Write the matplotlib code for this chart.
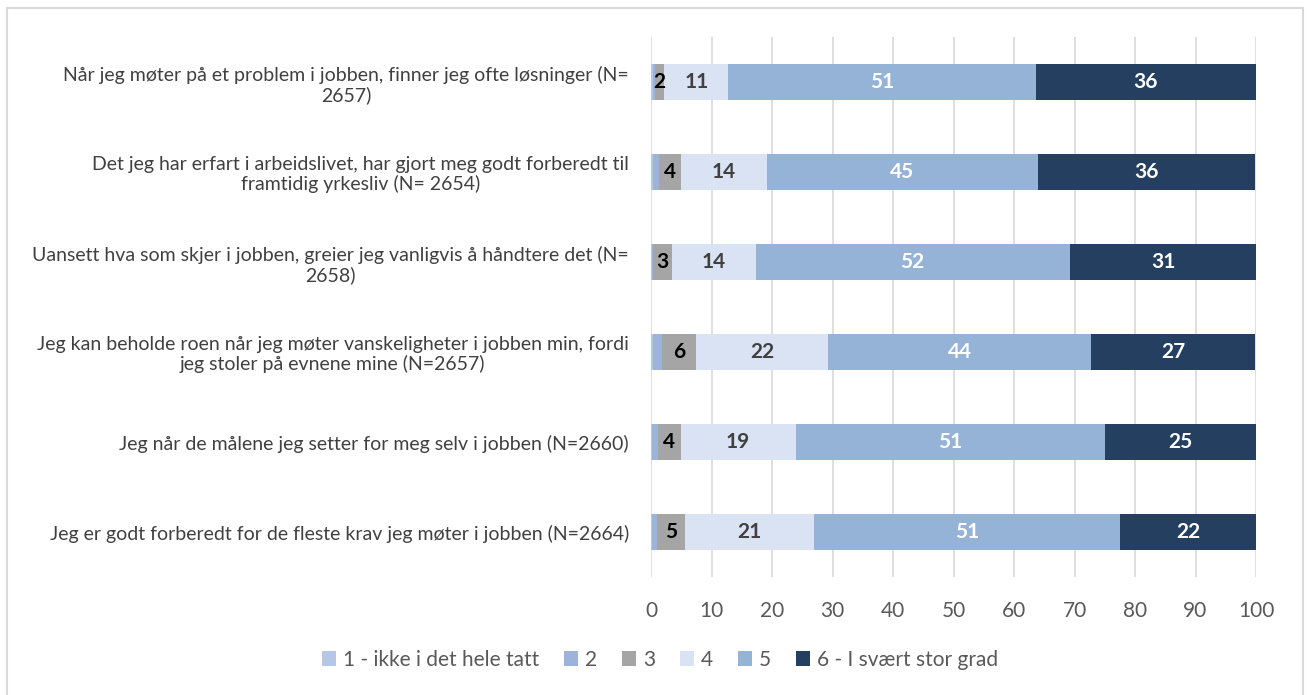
import matplotlib
matplotlib.use("Agg")
import matplotlib.pyplot as plt
from matplotlib.patches import Rectangle
import numpy as np

plt.rcParams['font.family'] = ['Lato', 'DejaVu Sans']

categories = [
    "Når jeg møter på et problem i jobben, finner jeg ofte løsninger (N=\n2657)",
    "Det jeg har erfart i arbeidslivet, har gjort meg godt forberedt til\nframtidig yrkesliv (N= 2654)",
    "Uansett hva som skjer i jobben, greier jeg vanligvis å håndtere det (N=\n2658)",
    "Jeg kan beholde roen når jeg møter vanskeligheter i jobben min, fordi\njeg stoler på evnene mine (N=2657)",
    "Jeg når de målene jeg setter for meg selv i jobben (N=2660)",
    "Jeg er godt forberedt for de fleste krav jeg møter i jobben (N=2664)",
]
series_names = ["1 - ikke i det hele tatt", "2", "3", "4", "5", "6 - I svært stor grad"]
s1 = [0.3, 0.3, 0.2, 0.3, 0.2, 0.2]
s2 = [0.3, 1.0, 0.2, 1.5, 0.9, 0.8]
s3 = [1.6, 3.6, 3.1, 5.7, 3.8, 4.6]
s4 = [10.6, 14.2, 13.8, 21.7, 19.0, 21.3]
s5 = [50.8, 44.8, 51.9, 43.6, 51.1, 50.7]
s6 = [36.4, 36.0, 30.9, 27.1, 25.0, 22.4]
xticks = [0, 10, 20, 30, 40, 50, 60, 70, 80, 90, 100]

colors = ["#b4c7e7", "#9db3d9", "#a5a5a5", "#dae3f3", "#95b3d7", "#243f60"]
label_colors = [None, None, "#000000", "#404040", "#ffffff", "#ffffff"]

fig = plt.figure(figsize=(13.09, 6.95), dpi=100)
ax = fig.add_axes([651/1309, 1-577/695, (1256-651)/1309, 540/695])

series = [s1, s2, s3, s4, s5, s6]
y = np.arange(len(categories))
left = np.zeros(len(categories))
handles = []
for i, (vals, name) in enumerate(zip(series, series_names)):
    vals = np.array(vals)
    bars = ax.barh(y, vals, left=left, height=0.4, color=colors[i], label=name, zorder=3)
    handles.append(bars)
    if label_colors[i] is not None:
        for yy, l, v in zip(y, left, vals):
            ax.text(l + v/2, yy, f"{round(v):d}", ha='center', va='center',
                    color=label_colors[i], fontsize=15, fontweight='bold', zorder=4)
    left = left + vals

ax.set_xlim(0, 100)
ax.set_ylim(len(categories)-0.5, -0.5)
ax.set_xticks(xticks)
ax.set_xticklabels([str(t) for t in xticks], fontsize=15, color='#595959')
ax.set_yticks(y)
ax.set_yticklabels(categories, fontsize=14, color='#404040', linespacing=1.15)
for t in ax.get_yticklabels():
    t.set_multialignment('center')
ax.tick_params(axis='both', length=0)
ax.tick_params(axis='x', pad=17)
ax.tick_params(axis='y', pad=16)
ax.grid(axis='x', color='#d9d9d9', linewidth=1.2, zorder=0)
for sp in ax.spines.values():
    sp.set_visible(False)

fig.legend(handles=handles, labels=series_names, loc='center', bbox_to_anchor=(0.504, 1-660/695),
           ncol=6, frameon=False, fontsize=15, handlelength=0.7, handleheight=0.7,
           handletextpad=0.3, columnspacing=1.2, labelcolor='#595959')

fig.patches.append(Rectangle((7/1309, -0.01), (1303-7)/1309, 1-8/695+0.01, transform=fig.transFigure,
                             fill=False, edgecolor='#d9d9d9', linewidth=1.5))

fig.savefig("out.png", dpi=100)
